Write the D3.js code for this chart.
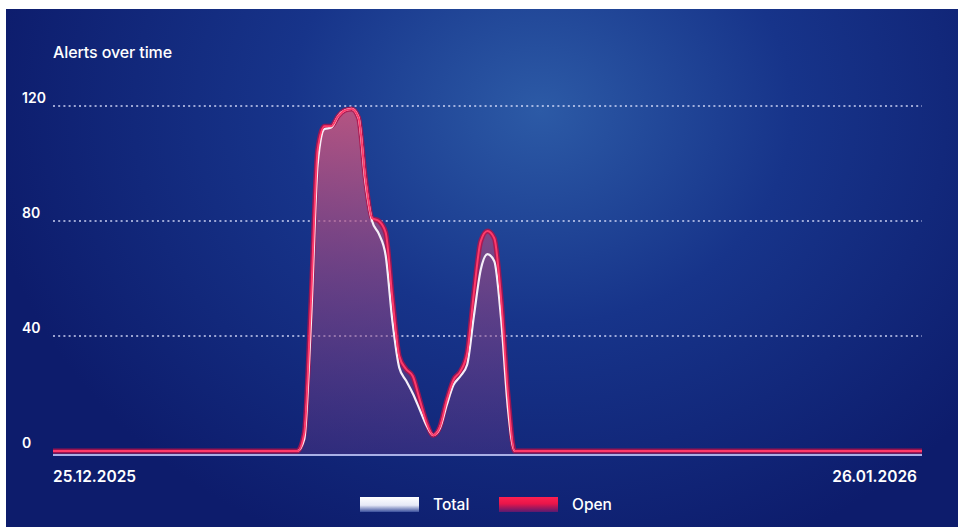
<!DOCTYPE html>
<html>
<head>
<meta charset="utf-8">
<script src="https://cdn.jsdelivr.net/npm/d3@7"></script>
<style>
  html, body { margin: 0; padding: 0; background: #ffffff; }
  svg { display: block; font-family: Inter, "Noto Sans", sans-serif; }
</style>
</head>
<body>
<svg id="chart" width="958" height="527"></svg>
<script>
const title = "Alerts over time";
const timestamps = [
  "2025-12-25T00:00",
  "2026-01-03T00:00","2026-01-03T06:00","2026-01-03T12:00","2026-01-03T18:00",
  "2026-01-04T00:00","2026-01-04T06:00","2026-01-04T12:00","2026-01-04T18:00",
  "2026-01-05T00:00","2026-01-05T06:00","2026-01-05T12:00","2026-01-05T18:00",
  "2026-01-06T00:00","2026-01-06T06:00","2026-01-06T12:00","2026-01-06T18:00",
  "2026-01-07T00:00","2026-01-07T06:00","2026-01-07T12:00","2026-01-07T18:00",
  "2026-01-08T00:00","2026-01-08T06:00","2026-01-08T12:00","2026-01-08T18:00",
  "2026-01-09T00:00","2026-01-09T06:00","2026-01-09T12:00","2026-01-09T18:00",
  "2026-01-10T00:00","2026-01-10T06:00","2026-01-10T12:00","2026-01-10T18:00",
  "2026-01-11T00:00",
  "2026-01-26T00:00"
];
const totalValues = [
  0,
  0, 4, 45, 100,
  112, 112.5, 116.5, 118.5,
  119, 116, 94, 80,
  75.5, 68, 45, 29,
  24.5, 20, 14.5, 9,
  5.5, 8, 16, 23,
  26, 30, 47, 63,
  68.5, 66, 46, 15,
  0,
  0
];
const openValues = [
  0,
  0, 6, 52, 105,
  113, 113, 116.5, 118.5,
  119, 116, 95, 81,
  80, 76, 53, 33,
  28.5, 26, 18, 10,
  5.5, 8.5, 17.7, 24.8,
  27.7, 34, 55, 73,
  76.5, 74, 53, 20,
  0,
  0
];
const yTicks = [0, 40, 80, 120];
const xTickLabels = ["25.12.2025", "26.01.2026"];
const legendItems = ["Total", "Open"];

const svg = d3.select("#chart");
const W = 958, H = 527;
const parse = d3.utcParse("%Y-%m-%dT%H:%M");
const xDates = timestamps.map(parse);

const defs = svg.append("defs");
const bg = defs.append("radialGradient").attr("id", "bg")
  .attr("gradientUnits", "userSpaceOnUse")
  .attr("cx", 540).attr("cy", 110).attr("r", 560)
  .attr("gradientTransform", "translate(540,110) scale(1,0.85) translate(-540,-110)");
bg.append("stop").attr("offset", "0%").attr("stop-color", "#2c5aa6");
bg.append("stop").attr("offset", "45%").attr("stop-color", "#17348a");
bg.append("stop").attr("offset", "100%").attr("stop-color", "#0d1c6c");

const fillG = defs.append("linearGradient").attr("id", "fillG")
  .attr("x1", 0).attr("y1", 0).attr("x2", 0).attr("y2", 1);
fillG.append("stop").attr("offset", "0%").attr("stop-color", "#d0587f").attr("stop-opacity", 0.85);
fillG.append("stop").attr("offset", "100%").attr("stop-color", "#6a3a88").attr("stop-opacity", 0.35);

const swW = defs.append("linearGradient").attr("id", "swW").attr("x1", 0).attr("y1", 0).attr("x2", 0).attr("y2", 1);
swW.append("stop").attr("offset", "0%").attr("stop-color", "#ffffff");
swW.append("stop").attr("offset", "55%").attr("stop-color", "#e6e9f7");
swW.append("stop").attr("offset", "100%").attr("stop-color", "#3a4f9c");
const swR = defs.append("linearGradient").attr("id", "swR").attr("x1", 0).attr("y1", 0).attr("x2", 0).attr("y2", 1);
swR.append("stop").attr("offset", "0%").attr("stop-color", "#ff2050");
swR.append("stop").attr("offset", "45%").attr("stop-color", "#e8154a");
swR.append("stop").attr("offset", "100%").attr("stop-color", "#5a1a70");

svg.append("rect").attr("x", 6).attr("y", 9).attr("width", W - 6).attr("height", H - 9).attr("fill", "url(#bg)");

const x = d3.scaleUtc().domain([xDates[0], xDates[xDates.length - 1]]).range([53, 922]);
const y = d3.scaleLinear().domain([0, 120]).range([451, 106]);

// gridlines (skip 0)
svg.append("g").selectAll("line").data(yTicks.filter(d => d > 0)).join("line")
  .attr("x1", 53).attr("x2", 922)
  .attr("y1", d => y(d)).attr("y2", d => y(d))
  .attr("stroke", "#dfe3ff").attr("stroke-opacity", 0.9)
  .attr("stroke-width", 1.6).attr("stroke-dasharray", "2,3.2");

// y labels
svg.append("g").selectAll("text").data(yTicks).join("text")
  .attr("x", 22).attr("y", d => y(d) - 3)
  .attr("fill", "#ffffff").attr("font-size", 14).attr("font-weight", 600)
  .text(d => d);

// title
svg.append("text").attr("x", 53).attr("y", 58).attr("fill", "#ffffff")
  .attr("font-size", 16).attr("font-weight", 500).attr("letter-spacing", -0.1).text(title);

// axis baseline
svg.append("line").attr("x1", 53).attr("x2", 922).attr("y1", y(0) + 4).attr("y2", y(0) + 4)
  .attr("stroke", "#a9b0e6").attr("stroke-width", 2);

const curve = d3.curveMonotoneX;
const areaGen = d3.area().x((d, i) => x(xDates[i])).y0(y(0) + 3).y1(d => y(d)).curve(curve);
const lineGen = d3.line().x((d, i) => x(xDates[i])).y(d => y(d)).curve(curve);

svg.append("path").datum(openValues).attr("d", areaGen).attr("fill", "url(#fillG)");

// open line glow (dark red)
svg.append("path").datum(openValues).attr("d", lineGen)
  .attr("fill", "none").attr("stroke", "#b0124a").attr("stroke-width", 5).attr("stroke-opacity", 0.85)
  .attr("stroke-linejoin", "round");
// total line
svg.append("path").datum(totalValues).attr("d", lineGen)
  .attr("fill", "none").attr("stroke", "#f4eef8").attr("stroke-width", 2.2).attr("stroke-linejoin", "round");
// open line
svg.append("path").datum(openValues).attr("d", lineGen)
  .attr("fill", "none").attr("stroke", "#ff3a6a").attr("stroke-width", 2).attr("stroke-linejoin", "round");

// x labels
svg.append("text").attr("x", 53).attr("y", 482).attr("fill", "#ffffff")
  .attr("font-size", 15.5).attr("font-weight", 600).text(xTickLabels[0]);
svg.append("text").attr("x", 917).attr("y", 482).attr("fill", "#ffffff").attr("text-anchor", "end")
  .attr("font-size", 15.5).attr("font-weight", 600).text(xTickLabels[1]);

// legend
const lg = svg.append("g");
const swatches = ["url(#swW)", "url(#swR)"];
const legX = [360, 499];
legendItems.forEach((name, i) => {
  lg.append("rect").attr("x", legX[i]).attr("y", 497).attr("width", 59).attr("height", 15).attr("fill", swatches[i]);
  lg.append("text").attr("x", legX[i] + 73).attr("y", 510).attr("fill", "#ffffff")
    .attr("font-size", 15.5).attr("font-weight", 500).text(name);
});
</script>
</body>
</html>
